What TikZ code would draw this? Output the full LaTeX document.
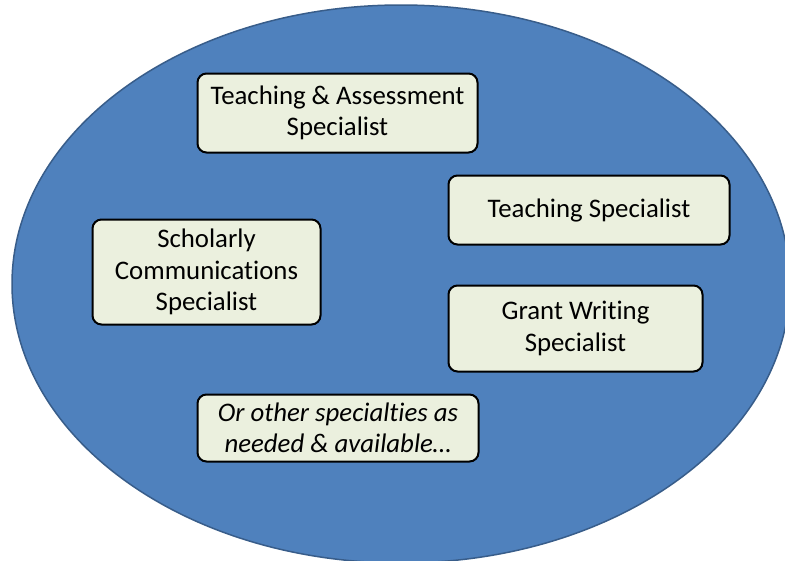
\documentclass[tikz,border=0pt]{standalone}
\usepackage{fontspec}
\setmainfont[Ligatures=NoCommon]{Carlito}
\usepackage{tikz}
\usetikzlibrary{shapes,positioning}

\definecolor{ovalFill}{RGB}{79,129,189}
\definecolor{ovalLine}{RGB}{56,93,138}
\definecolor{boxFill}{RGB}{235,240,222}

\begin{document}
\begin{tikzpicture}[x=1pt,y=-1pt]
		\clip (0,0) rectangle (785,560);
		\fill[white] (0,0) rectangle (785,560);
		\begin{scope}
			[
				styleOval/.style={fill=ovalFill, draw=ovalLine, line width=1.5pt},
				styleRole/.style={
					draw=black, line width=2pt, fill=boxFill,
					rounded corners=9pt, align=center,
					inner sep=0pt,
					font=\fontsize{26.8}{31.5}\selectfont
					},
				styleMore/.style={styleRole, font=\fontsize{26.8}{31.5}\selectfont\itshape},
			]
			\path[styleOval] (401,284) ellipse [x radius=389, y radius=279];

			\node(assess)[styleRole, minimum width=280, minimum height=79] at (337.5,113) {Teaching \& Assessment\\Specialist};
			\node(teach)[styleRole, minimum width=281, minimum height=69] at (589,210) {Teaching Specialist};
			\node(schol)[styleRole, minimum width=228, minimum height=105] at (206.5,272) {Scholarly\\Communications\\Specialist};
			\node(grant)[styleRole, minimum width=254, minimum height=86] at (575.5,328.5) {Grant Writing\\Specialist};
			\node(other)[styleMore, minimum width=281, minimum height=67] at (338,428) {Or other specialties as\\needed \& available\dots};
		\end{scope}
	\end{tikzpicture}
\end{document}
